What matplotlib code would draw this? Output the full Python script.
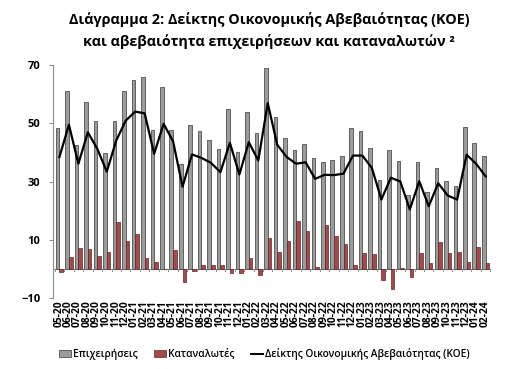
import numpy as np
import matplotlib.pyplot as plt
from matplotlib.patches import Patch
from matplotlib.lines import Line2D

plt.rcParams['font.family'] = ['Open Sans', 'DejaVu Sans']

# μήνες 05-20 ... 02-24
meses = []
for ano in range(20, 25):
    for m in range(1, 13):
        if (ano == 20 and m < 5) or (ano == 24 and m > 2):
            continue
        meses.append(f'{m:02d}-{ano}')

epixeiriseis = [48.3, 61.2, 42.6, 57.2, 50.8, 39.7, 50.8, 61.2, 64.7, 65.8,
                47.8, 62.4, 47.8, 36.1, 49.5, 47.3, 44.3, 41.2, 54.9, 40.1,
                53.8, 46.8, 68.9, 52.1, 45.0, 40.9, 42.8, 38.1, 36.8, 37.3,
                38.6, 48.4, 47.2, 41.5, 30.6, 40.9, 37.2, 25.4, 36.6, 26.3,
                34.7, 30.3, 28.3, 48.6, 43.1, 38.9]

katanalotes = [-1.2, 4.1, 7.3, 6.9, 4.3, 5.8, 16.1, 9.4, 12.1, 3.7,
               2.3, 0.0, 6.6, -4.5, -0.9, 1.4, 1.5, 1.4, -1.5, -1.5,
               3.7, -2.0, 10.6, 5.8, 9.4, 16.6, 12.9, 0.5, 14.9, 11.3,
               8.6, 1.2, 5.3, 5.2, -3.9, -6.8, 0.2, -2.8, 5.4, 1.9,
               9.2, 5.3, 5.8, 2.2, 7.5, 2.1]

koe = [38.4, 49.5, 36.1, 46.9, 41.2, 33.4, 44.1, 50.9, 54.0, 53.4,
       39.5, 49.8, 43.8, 28.2, 39.3, 38.1, 36.4, 33.2, 43.3, 32.4,
       43.5, 37.2, 56.9, 42.6, 38.4, 36.1, 36.6, 30.9, 32.3, 32.2,
       32.7, 38.9, 38.9, 34.6, 23.8, 31.3, 30.0, 20.4, 30.1, 21.5,
       29.4, 25.2, 23.8, 39.2, 36.1, 31.8]

corCinza = '#9b9b9b'
corVermelha = '#a34a4c'

x = np.arange(len(meses))
larg = 0.38

fig = plt.figure(figsize=(5.28, 3.69), dpi=100)
ax = fig.add_axes([53/528, 1 - 298/369, 437/528, 233/369])

ax.bar(x - larg/2 + 0.08, epixeiriseis, width=larg, color=corCinza,
       edgecolor='#505050', linewidth=0.6, zorder=2)
ax.bar(x + larg/2 + 0.08, katanalotes, width=larg, color=corVermelha,
       edgecolor='#5a2a2a', linewidth=0.5, zorder=2)
ax.plot(x + 0.08, koe, color='black', linewidth=1.6, zorder=3)

ax.set_ylim(-10, 70)
ax.set_yticks([-10, 10, 30, 50, 70])
ax.set_xlim(-0.6, len(meses) - 0.45)

for lado in ['top', 'right', 'bottom']:
    ax.spines[lado].set_visible(False)
ax.spines['left'].set_color('#8c8c8c')
ax.axhline(0, color='#8c8c8c', linewidth=0.8, zorder=1)

# marcas entre categorias sobre o eixo zero
for xi in np.arange(-0.5, len(meses), 1.0):
    ax.plot([xi + 0.08, xi + 0.08], [0, -0.9], color='#8c8c8c', linewidth=0.7,
            clip_on=False, zorder=1)

ax.set_xticks(x)
ax.set_xticklabels(meses, rotation=90, fontsize=7.4, fontweight='bold')
ax.tick_params(axis='x', length=0, pad=1.5)
ax.tick_params(axis='y', labelsize=8, length=3, color='#8c8c8c', pad=6)
for lbl in ax.get_yticklabels():
    lbl.set_fontweight('bold')

fig.text(0.51, 0.948, 'Διάγραμμα 2: Δείκτης Οικονομικής Αβεβαιότητας (ΚΟΕ)',
         ha='center', va='center', fontsize=10.4, fontweight='bold')
fig.text(0.51, 0.887, 'και αβεβαιότητα επιχειρήσεων και καταναλωτών ²',
         ha='center', va='center', fontsize=10.4, fontweight='bold')

handles = [Patch(facecolor=corCinza, edgecolor='#505050', linewidth=0.6),
           Patch(facecolor=corVermelha, edgecolor='#5a2a2a', linewidth=0.5),
           Line2D([0], [0], color='black', linewidth=1.4)]
labels = ['Επιχειρήσεις', 'Καταναλωτές', 'Δείκτης Οικονομικής Αβεβαιότητας (ΚΟΕ)']
fig.legend(handles, labels, loc='center', bbox_to_anchor=(0.5, 0.04), ncol=3,
           frameon=False, handlelength=1.2, handleheight=0.6,
           handletextpad=0.2, columnspacing=1.6,
           prop={'size': 7.3, 'weight': 'semibold'})

fig.savefig('out.png', dpi=100)
